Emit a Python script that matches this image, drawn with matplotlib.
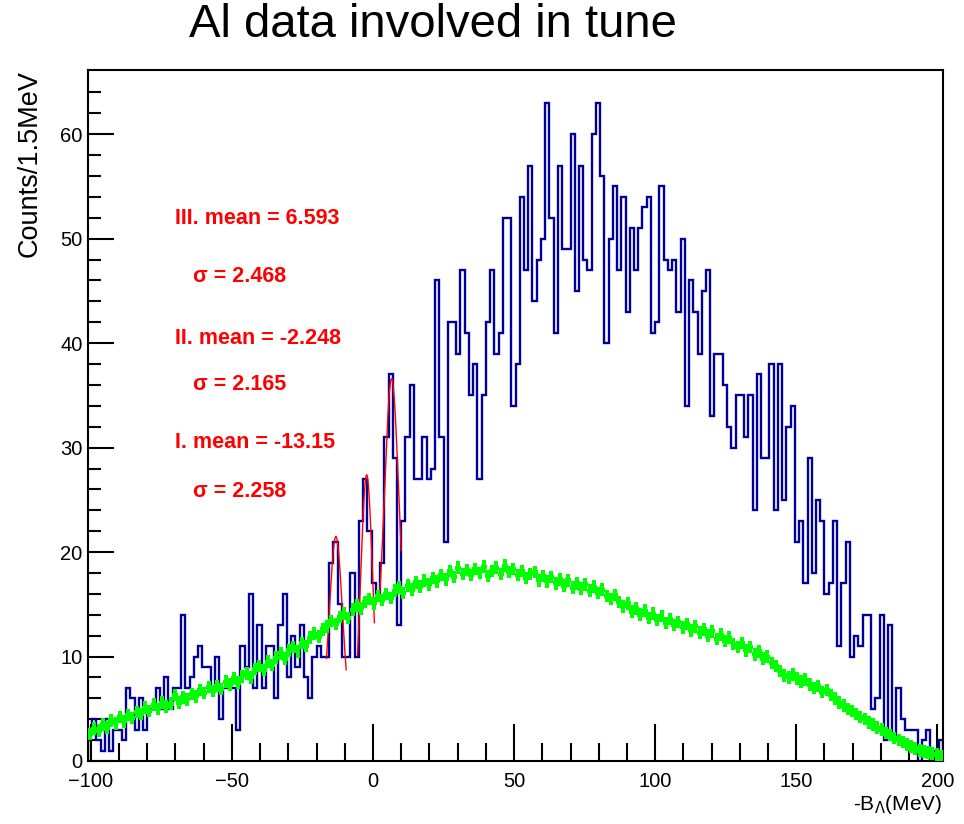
import numpy as np
import matplotlib
matplotlib.use('Agg')
import matplotlib.pyplot as plt

plt.rcParams['font.family'] = ['Liberation Sans', 'DejaVu Sans']

# histogram binning: 1.5 MeV bins from -101 to 202
x_lo, x_hi, bin_w = -101.0, 202.0, 1.5

# data (blue histogram), counts per bin
data_counts = [
    3, 4, 2, 1, 4, 1, 3, 3, 2, 7,
    6, 3, 6, 3, 5, 5, 7, 5, 8, 5,
    7, 7, 14, 7, 8, 10, 11, 9, 9, 7,
    10, 4, 7, 7, 7, 3, 11, 9, 16, 7,
    13, 7, 11, 11, 6, 13, 16, 8, 12, 9,
    13, 8, 6, 10, 11, 10, 10, 19, 21, 15,
    10, 10, 18, 10, 23, 27, 22, 17, 16, 19,
    31, 37, 29, 13, 23, 31, 36, 27, 27, 31,
    27, 28, 46, 31, 21, 42, 42, 39, 47, 41,
    35, 38, 27, 35, 42, 47, 39, 41, 52, 52,
    34, 38, 54, 47, 57, 44, 48, 50, 63, 52,
    41, 57, 49, 49, 60, 45, 57, 48, 47, 60,
    63, 56, 40, 50, 55, 47, 54, 43, 51, 47,
    51, 53, 54, 41, 42, 55, 48, 47, 48, 43,
    50, 34, 46, 43, 39, 45, 47, 33, 39, 39,
    36, 32, 30, 35, 35, 31, 35, 24, 37, 29,
    29, 38, 24, 38, 25, 32, 34, 21, 23, 17,
    29, 18, 25, 23, 16, 17, 23, 11, 17, 21,
    10, 12, 11, 14, 14, 5, 6, 14, 2, 13,
    2, 7, 4, 3, 3, 3, 0, 2, 3, 0,
    1, 2,
]

# simulation (green points), scaled counts per bin
sim_counts = [
    2.6, 3.1, 2.9, 3.5, 3.2, 3.9, 3.6, 4.2, 3.8, 4.4,
    4.1, 4.7, 4.5, 5.1, 4.8, 5.4, 5.0, 5.6, 5.2, 5.5,
    6.3, 5.6, 6.1, 5.9, 6.4, 6.2, 6.8, 6.5, 7.1, 6.7,
    7.2, 6.9, 7.6, 7.3, 7.9, 7.5, 8.1, 8.4, 8.0, 8.8,
    9.1, 8.7, 9.5, 9.2, 9.9, 10.3, 9.8, 10.6, 10.9, 10.5,
    11.3, 11.0, 11.8, 12.2, 11.9, 12.6, 12.9, 13.4, 13.1, 13.8,
    14.1, 13.7, 14.5, 14.9, 14.6, 15.2, 15.5, 15.1, 15.8, 15.4,
    16.0, 15.6, 16.3, 16.6, 16.1, 16.8, 16.4, 17.1, 16.7, 17.3,
    16.9, 17.5, 17.2, 17.8, 17.4, 18.2, 17.6, 18.5, 17.9, 18.3,
    17.8, 18.4, 18.0, 18.6, 17.7, 18.2, 18.5, 17.9, 18.7, 18.1,
    18.4, 17.8, 18.2, 17.5, 17.9, 18.1, 17.3, 17.7, 17.2, 17.6,
    17.0, 17.4, 16.8, 17.3, 16.6, 17.0, 16.5, 16.9, 16.3, 16.7,
    16.1, 16.4, 15.8, 15.5, 15.9, 15.2, 14.8, 15.1, 14.3, 14.6,
    14.0, 14.4, 13.7, 14.1, 13.5, 13.9, 13.2, 13.6, 13.0, 13.3,
    12.8, 13.1, 12.5, 12.9, 12.3, 12.6, 12.0, 12.4, 11.7, 12.1,
    11.5, 11.8, 11.2, 10.9, 11.3, 10.6, 10.9, 10.2, 10.5, 9.8,
    10.0, 9.4, 9.1, 8.6, 8.2, 8.0, 8.3, 7.9, 7.6, 7.8,
    7.3, 7.0, 7.2, 6.6, 6.8, 6.3, 6.0, 5.6, 5.3, 5.0,
    4.8, 4.5, 4.2, 4.0, 3.7, 3.5, 3.2, 3.0, 2.7, 2.5,
    2.2, 2.0, 1.8, 1.6, 1.4, 1.2, 1.0, 0.9, 0.8, 0.7,
    0.6, 0.5,
]

# gaussian fits: (label, mean, sigma, amplitude, background, fit range)
fits = [
    ('III', 6.593, 2.468, 26.8, 9.8, (2.2, 10.0)),
    ('II', -2.248, 2.165, 25.6, 1.8, (-5.5, 0.5)),
    ('I', -13.15, 2.258, 17.5, 4.0, (-16.5, -9.5)),
]

edges = np.arange(len(data_counts) + 1) * bin_w + x_lo
centers = edges[:-1] + bin_w / 2

fig = plt.figure(figsize=(9.64, 8.24), dpi=100)
ax = fig.add_axes([88/964, 1 - 761/824, (943 - 88)/964, (761 - 70)/824])

ax.stairs(data_counts, edges, color='#000099', lw=1.7, zorder=2)

for name, mu, sig, amp, bkg, (a, b) in fits:
    xf = np.linspace(a, b, 200)
    ax.plot(xf, amp * np.exp(-0.5 * ((xf - mu) / sig) ** 2) + bkg,
            color='red', lw=1.0, zorder=3)

ax.errorbar(centers, sim_counts, xerr=bin_w * 0.7, yerr=0.6, fmt='none',
            ecolor='#00ff00', elinewidth=2.9, zorder=4)

ax.set_xlim(x_lo, x_hi)
ax.set_ylim(0, 66.15)
ax.set_xticks(np.arange(-100, 201, 50))
ax.set_xticks(np.arange(-100, 201, 10), minor=True)
ax.set_yticks(np.arange(0, 61, 10))
ax.set_yticks(np.arange(0, 66, 2), minor=True)
ax.tick_params(axis='both', which='both', direction='in', top=False, right=False,
               width=1.5, labelsize=14.5)
ax.tick_params(axis='x', which='major', length=27, pad=8)
ax.tick_params(axis='x', which='minor', length=13)
ax.tick_params(axis='y', which='major', length=19, pad=4)
ax.tick_params(axis='y', which='minor', length=9.5)
for s in ax.spines.values():
    s.set_linewidth(1.5)

fig.text(433/964, 1 - 25/824, 'Al data involved in tune', ha='center', va='center',
         fontsize=34)
fig.text(30/964, 1 - 70/824, 'Counts/1.5MeV', rotation=90, ha='center', va='top',
         fontsize=19.5)
fig.text(942/964, 1 - 805/824, r'-B$_{\Lambda}$(MeV)', ha='right', va='center',
         fontsize=15)

# fit result annotations
ypos = [(218, 276), (339, 384), (442, 492)]
for (name, mu, sig, amp, bkg, rng), (ym, ys) in zip(fits, ypos):
    fig.text(175/964, 1 - ym/824, f'{name}. mean = {mu:.4g}', color='red',
             fontsize=15.5, fontweight='bold', ha='left', va='center')
    fig.text(193/964, 1 - ys/824, f'σ = {sig:.3f}', color='red',
             fontsize=15.5, fontweight='bold', ha='left', va='center')

fig.savefig('out.png', dpi=100)
